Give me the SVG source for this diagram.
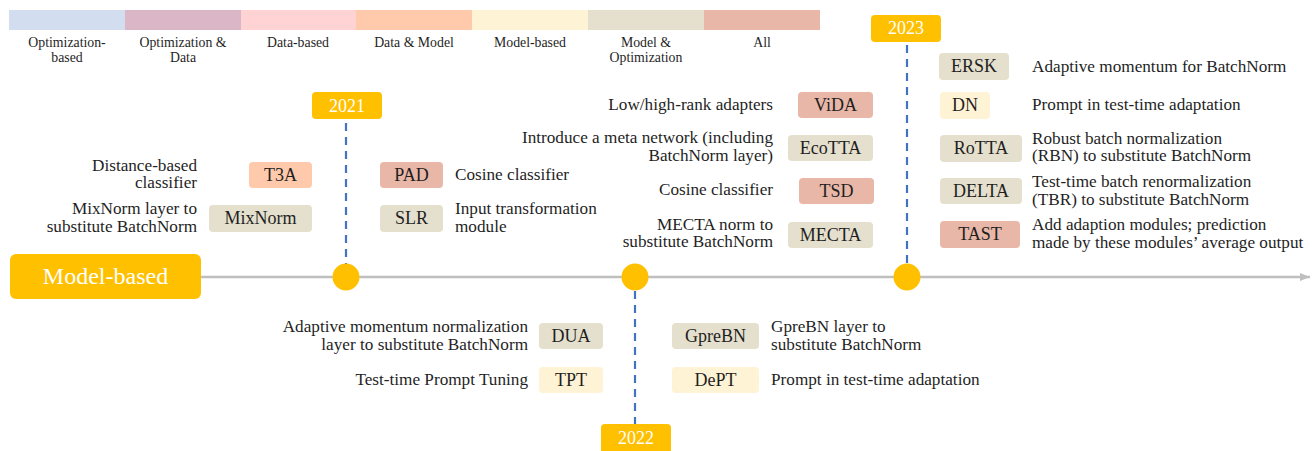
<svg xmlns="http://www.w3.org/2000/svg" width="1316" height="451" viewBox="0 0 1316 451">
<style>
text{font-family:"Liberation Serif","DejaVu Serif",serif;fill:#1f1f1f}
.leg{font-size:13.8px;text-anchor:middle}
.lbl{font-size:17.2px}
.r{text-anchor:end}
.nt{font-size:18px;text-anchor:middle}
.yr{font-size:18px;text-anchor:middle;fill:#ffffff}
.yb{fill:#FFC000}
.dash{stroke:#4472C4;stroke-width:2.2;stroke-dasharray:8 6;fill:none}
.c1{fill:#D3DDF0}.c2{fill:#DAB6C6}.c3{fill:#FFD3D3}.c4{fill:#FFC9AB}.c5{fill:#FFF3D5}.c6{fill:#E5E0CD}.c7{fill:#E9B7A7}
</style>
<defs>
<marker id="arr" viewBox="0 0 10 8" refX="10" refY="4" markerWidth="10" markerHeight="8" markerUnits="userSpaceOnUse" orient="auto">
<path d="M0,0 L10,4 L0,8 z" fill="#BFBFBF"/>
</marker>
</defs>
<g id="legend">
<rect class="c1" x="9" y="10" width="116" height="20"/>
<rect class="c2" x="125" y="10" width="116" height="20"/>
<rect class="c3" x="241" y="10" width="115" height="20"/>
<rect class="c4" x="356" y="10" width="116" height="20"/>
<rect class="c5" x="472" y="10" width="116" height="20"/>
<rect class="c6" x="588" y="10" width="116" height="20"/>
<rect class="c7" x="704" y="10" width="116" height="20"/>
<text class="leg" x="67" y="47">Optimization-</text>
<text class="leg" x="67" y="62">based</text>
<text class="leg" x="183" y="47">Optimization &amp;</text>
<text class="leg" x="183" y="62">Data</text>
<text class="leg" x="298" y="47">Data-based</text>
<text class="leg" x="414" y="47">Data &amp; Model</text>
<text class="leg" x="530" y="47">Model-based</text>
<text class="leg" x="646" y="47">Model &amp;</text>
<text class="leg" x="646" y="62">Optimization</text>
<text class="leg" x="762" y="47">All</text>
</g>
<g id="connectors">
<line x1="201" y1="277" x2="1310" y2="277" stroke="#BFBFBF" stroke-width="2.5" marker-end="url(#arr)"/>
<line class="dash" x1="346" y1="123" x2="346" y2="264"/>
<line class="dash" x1="635" y1="291" x2="635" y2="424"/>
<line class="dash" x1="907" y1="45" x2="907" y2="264"/>
</g>
<g id="model-based">
<rect x="10" y="254" width="191" height="45" rx="6" fill="#FFC000"/>
<text x="105.5" y="284" style="font-size:24px;text-anchor:middle;fill:#ffffff">Model-based</text>
</g>
<g id="y2021">
<rect class="yb" x="312" y="92" width="70" height="27" rx="4"/>
<text class="yr" x="347" y="112">2021</text>
<circle class="yb" cx="346" cy="277" r="13.5"/>
</g>
<g id="y2022">
<rect class="yb" x="601" y="424" width="70" height="30" rx="4"/>
<text class="yr" x="636" y="444">2022</text>
<circle class="yb" cx="635" cy="277" r="13.5"/>
</g>
<g id="y2023">
<rect class="yb" x="871" y="15" width="70" height="27" rx="4"/>
<text class="yr" x="906" y="34">2023</text>
<circle class="yb" cx="907" cy="277" r="13.5"/>
</g>
<g id="T3A">
<rect class="c4" x="249" y="162" width="63" height="26" rx="4"/>
<text class="nt" x="280.5" y="181">T3A</text>
<text class="lbl r" x="197" y="171">Distance-based</text>
<text class="lbl r" x="197" y="188">classifier</text>
</g>
<g id="MixNorm">
<rect class="c6" x="209" y="205" width="103" height="27" rx="4"/>
<text class="nt" x="260.5" y="224">MixNorm</text>
<text class="lbl r" x="197" y="214">MixNorm layer to</text>
<text class="lbl r" x="197" y="232">substitute BatchNorm</text>
</g>
<g id="PAD">
<rect class="c7" x="380" y="162" width="63" height="26" rx="4"/>
<text class="nt" x="411.5" y="181">PAD</text>
<text class="lbl" x="455" y="180">Cosine classifier</text>
</g>
<g id="SLR">
<rect class="c6" x="380" y="205" width="63" height="27" rx="4"/>
<text class="nt" x="411.5" y="224">SLR</text>
<text class="lbl" x="455" y="214">Input transformation</text>
<text class="lbl" x="455" y="232">module</text>
</g>
<g id="ViDA">
<rect class="c7" x="798" y="92" width="75" height="26" rx="4"/>
<text class="nt" x="835.5" y="111">ViDA</text>
<text class="lbl r" x="773" y="110">Low/high-rank adapters</text>
</g>
<g id="EcoTTA">
<rect class="c6" x="788" y="135" width="85" height="26" rx="4"/>
<text class="nt" x="830.5" y="154">EcoTTA</text>
<text class="lbl r" x="773" y="143">Introduce a meta network (including</text>
<text class="lbl r" x="773" y="161">BatchNorm layer)</text>
</g>
<g id="TSD">
<rect class="c7" x="799" y="178" width="75" height="26" rx="4"/>
<text class="nt" x="836.5" y="197">TSD</text>
<text class="lbl r" x="773" y="195">Cosine classifier</text>
</g>
<g id="MECTA">
<rect class="c6" x="788" y="222" width="85" height="26" rx="4"/>
<text class="nt" x="830.5" y="241">MECTA</text>
<text class="lbl r" x="773" y="230">MECTA norm to</text>
<text class="lbl r" x="773" y="247">substitute BatchNorm</text>
</g>
<g id="ERSK">
<rect class="c6" x="939" y="53" width="70" height="27" rx="4"/>
<text class="nt" x="974" y="72">ERSK</text>
<text class="lbl" x="1032" y="72">Adaptive momentum for BatchNorm</text>
</g>
<g id="DN">
<rect class="c5" x="940" y="92" width="50" height="27" rx="4"/>
<text class="nt" x="965" y="111">DN</text>
<text class="lbl" x="1032" y="110">Prompt in test-time adaptation</text>
</g>
<g id="RoTTA">
<rect class="c6" x="940" y="135" width="82" height="27" rx="4"/>
<text class="nt" x="981" y="154">RoTTA</text>
<text class="lbl" x="1032" y="144">Robust batch normalization</text>
<text class="lbl" x="1032" y="161">(RBN) to substitute BatchNorm</text>
</g>
<g id="DELTA">
<rect class="c6" x="940" y="178" width="82" height="26" rx="4"/>
<text class="nt" x="981" y="197">DELTA</text>
<text class="lbl" x="1032" y="187">Test-time batch renormalization</text>
<text class="lbl" x="1032" y="205">(TBR) to substitute BatchNorm</text>
</g>
<g id="TAST">
<rect class="c7" x="940" y="221" width="80" height="27" rx="4"/>
<text class="nt" x="980" y="240">TAST</text>
<text class="lbl" x="1032" y="230">Add adaption modules; prediction</text>
<text class="lbl" x="1032" y="248">made by these modules’ average output</text>
</g>
<g id="DUA">
<rect class="c6" x="539" y="323" width="64" height="26" rx="4"/>
<text class="nt" x="571" y="342">DUA</text>
<text class="lbl r" x="528" y="332">Adaptive momentum normalization</text>
<text class="lbl r" x="528" y="350">layer to substitute BatchNorm</text>
</g>
<g id="TPT">
<rect class="c5" x="539" y="367" width="64" height="26" rx="4"/>
<text class="nt" x="571" y="386">TPT</text>
<text class="lbl r" x="528" y="385">Test-time Prompt Tuning</text>
</g>
<g id="GpreBN">
<rect class="c6" x="672" y="323" width="87" height="26" rx="4"/>
<text class="nt" x="715.5" y="342">GpreBN</text>
<text class="lbl" x="771" y="332">GpreBN layer to</text>
<text class="lbl" x="771" y="350">substitute BatchNorm</text>
</g>
<g id="DePT">
<rect class="c5" x="672" y="367" width="87" height="26" rx="4"/>
<text class="nt" x="715.5" y="386">DePT</text>
<text class="lbl" x="771" y="385">Prompt in test-time adaptation</text>
</g>
</svg>
